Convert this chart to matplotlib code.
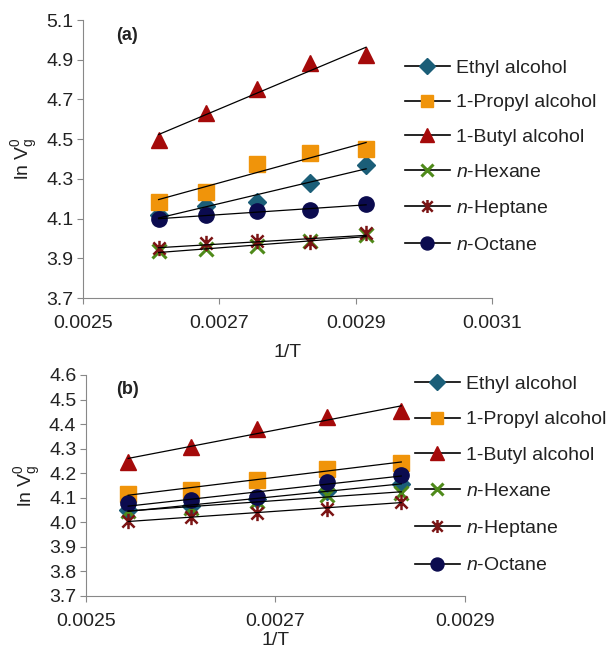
import numpy as np
import matplotlib
matplotlib.use("Agg")
import matplotlib.pyplot as plt
from matplotlib.lines import Line2D
from matplotlib.path import Path

plt.rcParams['font.family'] = ['Liberation Sans', 'DejaVu Sans']
plt.rcParams['mathtext.fontset'] = 'custom'
plt.rcParams['mathtext.rm'] = 'Liberation Sans'
plt.rcParams['mathtext.it'] = 'Liberation Sans:italic'

# column temperatures (K) for the two columns
temps_a = [383, 373, 363, 353, 343]
temps_b = [393, 383, 373, 363, 353]

names = ['Ethyl alcohol', '1-Propyl alcohol', '1-Butyl alcohol',
         '$\\it{n}$-Hexane', '$\\it{n}$-Heptane', '$\\it{n}$-Octane']

# ln Vg0 values, column (a)
ethyl_a = [4.120, 4.163, 4.186, 4.278, 4.370]
propyl_a = [4.186, 4.236, 4.376, 4.429, 4.451]
butyl_a = [4.496, 4.633, 4.751, 4.882, 4.924]
hexane_a = [3.935, 3.946, 3.960, 3.985, 4.015]
heptane_a = [3.952, 3.975, 3.985, 3.980, 4.027]
octane_a = [4.097, 4.117, 4.139, 4.142, 4.172]

# ln Vg0 values, column (b)
ethyl_b = [4.050, 4.065, 4.095, 4.128, 4.158]
propyl_b = [4.117, 4.131, 4.172, 4.219, 4.242]
butyl_b = [4.247, 4.308, 4.382, 4.430, 4.455]
hexane_b = [4.045, 4.060, 4.088, 4.110, 4.118]
heptane_b = [4.004, 4.022, 4.039, 4.056, 4.083]
octane_b = [4.077, 4.090, 4.104, 4.165, 4.192]

# excel-style star: x with a vertical bar
star = Path([(-1, -1), (1, 1), (-1, 1), (1, -1), (0, -1.25), (0, 1.25)],
            [Path.MOVETO, Path.LINETO, Path.MOVETO, Path.LINETO, Path.MOVETO, Path.LINETO])

styles = [
    dict(marker='D', color='#1B5E78', ms=9, mew=1),
    dict(marker='s', color='#F0940A', ms=11, mew=1),
    dict(marker='^', color='#A50A0A', ms=12, mew=1),
    dict(marker='x', color='#4F8A1A', ms=10, mew=2.2),
    dict(marker=star, color='#7B1414', ms=11, mew=1.8),
    dict(marker='o', color='#0B0B4F', ms=11, mew=1),
]


def draw_panel(ax, temps, series, xlim, xticks, ylim, yticks, tag, xlabelpad):
    x = 1.0 / np.array(temps)
    for y, st in zip(series, styles):
        ax.plot(x, y, linestyle='none', marker=st['marker'], color=st['color'],
                markersize=st['ms'], markeredgewidth=st['mew'], zorder=3)
    for y in series:
        k, b = np.polyfit(x, y, 1)
        xs = np.array([x.min(), x.max()])
        ax.plot(xs, k * xs + b, color='black', lw=0.9, zorder=4)
    ax.set_xlim(*xlim)
    ax.set_ylim(*ylim)
    ax.set_xticks(xticks)
    ax.set_xticklabels(['%.4f' % t for t in xticks])
    ax.set_yticks(yticks)
    ax.set_yticklabels(['%.1f' % t for t in yticks])
    for s in ['top', 'right']:
        ax.spines[s].set_visible(False)
    for s in ['left', 'bottom']:
        ax.spines[s].set_color('#888888')
    ax.tick_params(colors='#888888', labelcolor='#222222', labelsize=14,
                   length=4, direction='out')
    ax.tick_params(axis='x', pad=8)
    ax.tick_params(axis='y', pad=3)
    ax.set_xlabel('1/T', fontsize=14, color='#222222', labelpad=xlabelpad)
    ax.set_ylabel('ln V$_\\mathregular{g}^\\mathregular{0}$', fontsize=14,
                  color='#222222', labelpad=4)
    ax.text(0.08, 0.975, tag, transform=ax.transAxes, fontsize=13,
            fontweight='bold', va='top', color='#222222')


def legend_handles():
    hs = []
    for st in styles:
        hs.append(Line2D([0], [0], color='black', lw=1.2, marker=st['marker'],
                         markerfacecolor=st['color'], markeredgecolor=st['color'],
                         markersize=st['ms'] * 0.85, markeredgewidth=st['mew']))
    return hs


fig = plt.figure(figsize=(6.13, 6.5), dpi=100)

ax_a = fig.add_axes([0.1354, 0.5415, 0.667, 0.4277])
draw_panel(ax_a, temps_a,
           [ethyl_a, propyl_a, butyl_a, hexane_a, heptane_a, octane_a],
           (0.0025, 0.0031), [0.0025, 0.0027, 0.0029, 0.0031],
           (3.7, 5.1), np.arange(3.7, 5.11, 0.2), '(a)', 9)

ax_b = fig.add_axes([0.1403, 0.0831, 0.618, 0.34])
draw_panel(ax_b, temps_b,
           [ethyl_b, propyl_b, butyl_b, hexane_b, heptane_b, octane_b],
           (0.0025, 0.0029), [0.0025, 0.0027, 0.0029],
           (3.7, 4.6), np.arange(3.7, 4.61, 0.1), '(b)', 2)

leg_kw = dict(frameon=False, fontsize=14, handlelength=2.3, handletextpad=0.3,
              borderaxespad=0, borderpad=0, labelcolor='#222222')
fig.legend(legend_handles(), names, loc='upper left', labelspacing=0.88,
           bbox_to_anchor=(405 / 613, 1 - 59 / 650), **leg_kw)
fig.legend(legend_handles(), names, loc='upper left', labelspacing=0.93,
           bbox_to_anchor=(415 / 613, 1 - 375 / 650), **leg_kw)

fig.savefig('out.png', dpi=100)
